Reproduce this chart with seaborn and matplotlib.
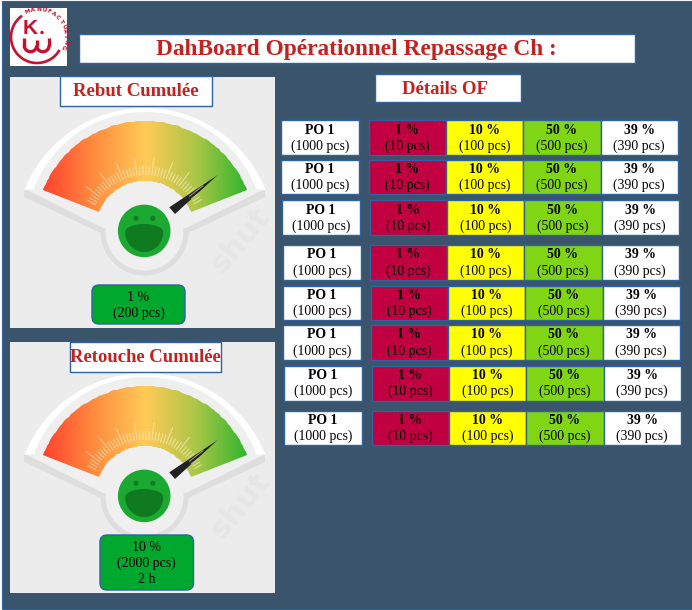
import matplotlib
matplotlib.use("Agg")

import matplotlib.pyplot as plt
import numpy as np
import seaborn as sns
from matplotlib.patches import Circle, FancyBboxPatch, Polygon, Rectangle
from matplotlib.path import Path

sns.set_theme(style="white")
plt.rcParams["font.family"] = ["Liberation Serif", "DejaVu Serif"]

# Chart content
TITLE = "DahBoard Opérationnel Repassage Ch :"
PANEL_TITLES = ["Rebut Cumulée", "Retouche Cumulée"]
DETAIL_TITLE = "Détails OF"
PANEL_LINES = [["1 %", "(200 pcs)"], ["10 %", "(2000 pcs)", "2 h"]]

po_names = ["PO 1"] * 8
po_totals = ["(1000 pcs)"] * 8
red_pct = ["1 %"] * 8
red_qty = ["(10 pcs)"] * 8
yellow_pct = ["10 %"] * 8
yellow_qty = ["(100 pcs)"] * 8
green_pct = ["50 %"] * 8
green_qty = ["(500 pcs)"] * 8
white_pct = ["39 %"] * 8
white_qty = ["(390 pcs)"] * 8

# Colours
BG = "#3a556b"
EDGE = "#2f62a3"
PANEL = "#ececec"
TITLE_RED = "#c5221f"
PILL_GREEN = "#00a82e"
CELL_COLORS = ["#c00040", "#ffff00", "#80d614", "#ffffff"]
GAUGE_STOPS = ["#ff3d2c", "#ff8a3e", "#ffca56", "#a9c647", "#29b42c"]
LOGO_RED = "#c8102e"

# Layout of the table, the rows of the original are not quite aligned
row_tops = [120, 159.5, 200, 245, 285.5, 325, 365.5, 410.5]
row_heights = [35, 34.5, 35, 35, 34.5, 35, 35, 34.5]
po_lefts = [281, 281, 282, 283, 283, 283, 284, 284]
cell_lefts = [369, 369, 370, 370, 371, 371, 372, 372]
cell_widths = [77, 77, 77.5, 77.5]
PO_WIDTH = 78
TABLE_FONT = 9.9

W, H = 692, 610
fig = plt.figure(figsize=(W / 100, H / 100), dpi=100, facecolor="white")


def pixel_axes(zorder):
    ax = fig.add_axes([0, 0, 1, 1], zorder=zorder)
    ax.set_xlim(0, W)
    ax.set_ylim(H, 0)
    ax.axis("off")
    ax.patch.set_alpha(0)
    return ax


base = pixel_axes(1)
top = pixel_axes(3)


def arc(cx, cy, r, a0, a1, n=80):
    angles = np.radians(np.linspace(a0, a1, n))
    return np.column_stack([cx + r * np.cos(angles), cy - r * np.sin(angles)])


def box(ax, x0, y0, x1, y1, color="white", lw=1.0):
    ax.add_patch(Rectangle((x0, y0), x1 - x0, y1 - y0, facecolor=color, edgecolor=EDGE, linewidth=lw))


def titled_box(x0, y0, x1, y1, label, size, shift=0):
    box(top, x0, y0, x1, y1)
    top.text((x0 + x1) / 2 + shift, (y0 + y1) / 2 + 1, label, color=TITLE_RED, fontsize=size,
             fontweight="bold", ha="center", va="center")


def draw_gauge(dy, panel):
    cx, cy = 145, 231 + dy

    # shadow under the dial
    shadow = [(24, 190 + dy), (24, 197 + dy), (103, 234 + dy), (186, 234 + dy), (265, 197 + dy), (265, 190 + dy)]
    base.add_patch(Polygon(shadow, facecolor="#dedede", edgecolor="none"))
    base.add_patch(Circle((cx - 0.5, cy + 0.5), 44, facecolor="#dedede", edgecolor="none"))

    # dial body
    body = np.vstack([arc(cx, 237.5 + dy, 129.5, 158, 22), [(186, 228 + dy), (103, 228 + dy)]])
    base.add_patch(Polygon(body, facecolor="#efefef", edgecolor="none"))
    base.add_patch(Circle((cx - 0.5, cy + 0.5), 39, facecolor="#efefef", edgecolor="none"))

    # faint stock-photo watermark
    mark = base.text(240, 240 + dy, "shut", color="#e6e6e6", fontsize=22, fontweight="bold",
                     family="DejaVu Sans", rotation=50, ha="center", va="center")
    mark.set_clip_path(panel)

    # white rim
    outer = arc(cx, 237.5 + dy, 129.5, 158.5, 21.5)
    inner = arc(cx, 230.7 + dy, 118.7, 20.5, 159.5)
    base.add_patch(Polygon(np.vstack([outer, inner]), facecolor="white", edgecolor="none"))

    # coloured sector as a horizontal gradient clipped to the sector shape
    x0, x1, y0, y1 = 40, 250, 115 + dy, 218 + dy
    grad_ax = fig.add_axes([x0 / W, 1 - y1 / H, (x1 - x0) / W, (y1 - y0) / H], zorder=2)
    cmap = sns.blend_palette(GAUGE_STOPS, as_cmap=True)
    sns.heatmap(np.linspace(0, 1, 210)[np.newaxis, :], ax=grad_ax, cmap=cmap, vmin=0, vmax=1,
                cbar=False, xticklabels=False, yticklabels=False)
    grad_ax.axis("off")
    sector = np.vstack([arc(cx, cy, 110, 158, 22), arc(cx, cy, 50, 22, 158)])
    sector = np.vstack([sector, sector[0]])
    grad_ax.collections[0].set_clip_path(Path(sector), base.transData)

    # scale ticks
    for angle in np.arange(29, 155, 3.0):
        major = int(round((angle - 38) / 3)) % 5 == 0
        r1 = 74 if major else 65
        p0 = arc(cx, cy, 56, angle, angle, 1)[0]
        p1 = arc(cx, cy, r1, angle, angle, 1)[0]
        top.plot([p0[0], p1[0]], [p0[1], p1[1]], color="#fff8e4", alpha=0.55, lw=0.75, solid_capstyle="butt")

    # needle
    top.add_patch(Polygon([(217.7, 175 + dy), (169.3, 207.3 + dy), (175, 214 + dy)],
                          facecolor="#222222", edgecolor="none"))

    # smiley
    hub = (144.2, 230.9 + dy)
    top.add_patch(Circle(hub, 26.3, facecolor="#1ba932", edgecolor="none"))
    for ex in (136, 152.7):
        top.add_patch(Circle((ex, 218.3 + dy), 2.6, facecolor="#0f7f24", edgecolor="none"))
    mouth_top = np.column_stack([hub[0] + 19 * np.cos(np.radians(np.linspace(180, 0, 40))),
                                 232 + dy - 8 * np.sin(np.radians(np.linspace(180, 0, 40)))])
    mouth_bottom = np.column_stack([hub[0] + 19 * np.cos(np.radians(np.linspace(0, -180, 40))),
                                    232 + dy - 20 * np.sin(np.radians(np.linspace(0, -180, 40)))])
    top.add_patch(Polygon(np.vstack([mouth_top, mouth_bottom]), facecolor="#0f7a20", edgecolor="none"))


def draw_pill(x0, y0, x1, y1, lines):
    top.add_patch(FancyBboxPatch((x0, y0), x1 - x0, y1 - y0, boxstyle="round,pad=0,rounding_size=7",
                                 facecolor=PILL_GREEN, edgecolor=EDGE, linewidth=1.0))
    middle = (y0 + y1) / 2 + 1
    for i, line in enumerate(lines):
        top.text((x0 + x1) / 2, middle + (i - (len(lines) - 1) / 2) * 16.3, line,
                 color="black", fontsize=10.0, ha="center", va="center")


def draw_logo():
    top.add_patch(Rectangle((10, 8), 57, 58, facecolor="white", edgecolor="none"))
    ring = arc(37, 37, 26, 125, 330)
    top.plot(ring[:, 0], ring[:, 1], color=LOGO_RED, lw=1.9, solid_capstyle="butt")
    top.text(30.5, 29, "K", color=LOGO_RED, fontsize=15, fontweight="bold", family="Liberation Sans",
             ha="center", va="center")
    top.add_patch(Circle((42, 32.5), 1.7, facecolor=LOGO_RED, edgecolor="none"))
    left = arc(30.5, 45.5, 6.2, 180, 360, 30)
    right = arc(42.9, 45.5, 6.2, 180, 360, 30)
    top.plot(left[:, 0], left[:, 1], color=LOGO_RED, lw=2.4, solid_capstyle="butt")
    top.plot(right[:, 0], right[:, 1], color=LOGO_RED, lw=2.4, solid_capstyle="butt")
    for stem_x, stem_top in zip((24.3, 36.7, 49.1), (38, 40, 38)):
        top.plot([stem_x, stem_x], [stem_top, 45.5], color=LOGO_RED, lw=2.4, solid_capstyle="butt")
    for i, ch in enumerate("MANUFACTURING"):
        angle = 111 - i * 11
        pos = arc(38, 37, 27.5, angle, angle, 1)[0]
        top.text(pos[0], pos[1], ch, color=LOGO_RED, fontsize=4.2, fontweight="bold",
                 family="DejaVu Sans", rotation=angle - 90, ha="center", va="center")


def draw_row(i):
    y0 = row_tops[i]
    h = row_heights[i]
    x = po_lefts[i]
    box(top, x, y0, x + PO_WIDTH, y0 + h)
    top.text(x + PO_WIDTH / 2, y0 + 10, po_names[i], color="black", fontsize=TABLE_FONT, fontweight="bold",
             ha="center", va="center")
    top.text(x + PO_WIDTH / 2, y0 + 26, po_totals[i], color="black", fontsize=TABLE_FONT, ha="center", va="center")

    columns = [(red_pct, red_qty), (yellow_pct, yellow_qty), (green_pct, green_qty), (white_pct, white_qty)]
    x = cell_lefts[i]
    for (pct, qty), color, width in zip(columns, CELL_COLORS, cell_widths):
        box(top, x, y0, x + width, y0 + h, color=color)
        top.text(x + width / 2, y0 + 10, pct[i], color="black", fontsize=TABLE_FONT, fontweight="bold",
                 ha="center", va="center")
        top.text(x + width / 2, y0 + 26, qty[i], color="black", fontsize=TABLE_FONT, ha="center", va="center")
        x += width


# page background and panels
base.add_patch(Rectangle((2, 1), W, 608, facecolor=BG, edgecolor=EDGE, linewidth=0.8))
panel_one = Rectangle((10, 77), 265, 251, facecolor=PANEL, edgecolor="none")
panel_two = Rectangle((10, 342), 265, 251, facecolor=PANEL, edgecolor="none")
base.add_patch(panel_one)
base.add_patch(panel_two)

draw_logo()
titled_box(78.5, 34, 635, 63, TITLE, 16.8, shift=-0.5)
titled_box(60, 75.5, 211.5, 105.5, PANEL_TITLES[0], 13.5)
titled_box(70, 342, 221, 372, PANEL_TITLES[1], 13.4)
titled_box(374.5, 74, 520.5, 102, DETAIL_TITLE, 13.5, shift=-2.5)

draw_gauge(0, panel_one)
draw_gauge(265, panel_two)
draw_pill(92, 285, 185, 324, PANEL_LINES[0])
draw_pill(100, 535, 193.5, 590, PANEL_LINES[1])

for row in range(len(po_names)):
    draw_row(row)

fig.savefig("out.png", dpi=100)
plt.close(fig)
